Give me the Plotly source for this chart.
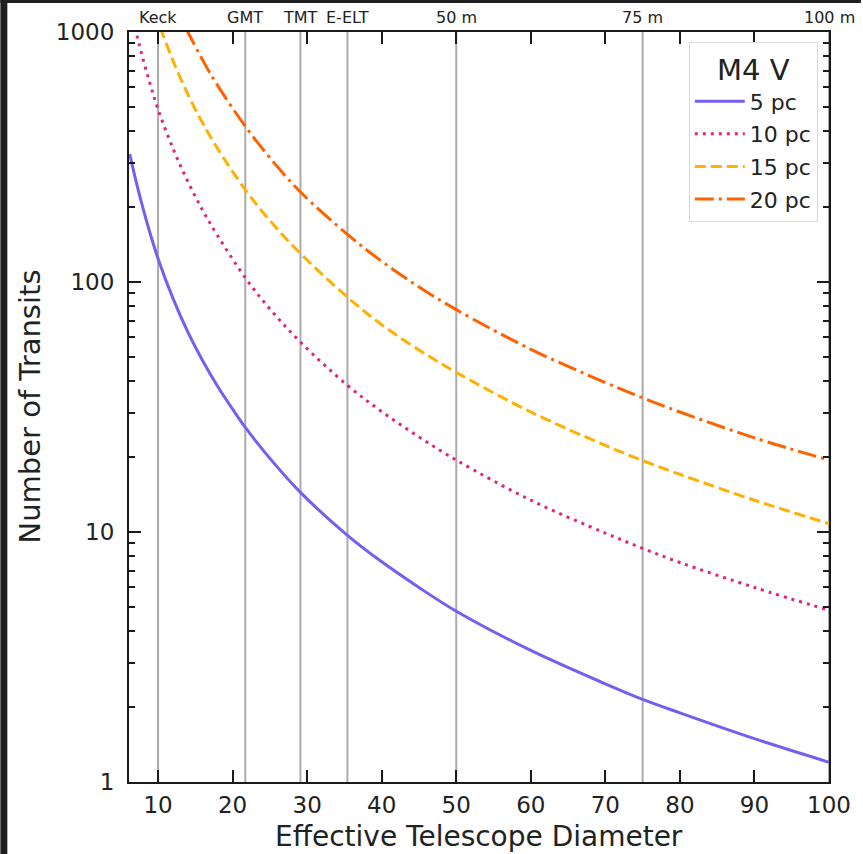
import plotly.graph_objects as go

# ---------------- data ----------------
d_5pc = [6.2, 7, 8, 9, 10, 12, 14, 16, 18, 20, 21.7, 25, 29.1, 35.4, 40, 45, 50, 60, 70, 75, 80, 90, 100]
n_5pc = [325, 256, 196, 154, 124, 86, 63, 48.3, 38.2, 31, 26.2, 19.7, 14.4, 9.7, 7.6, 6.0, 4.82, 3.36, 2.47, 2.14, 1.89, 1.49, 1.2]

d_10pc = [6.9, 8, 9, 10, 12, 14, 16, 18, 21.7, 25, 29.1, 35.4, 40, 45, 50, 60, 70, 75, 80, 90, 100]
n_10pc = [1040, 775, 610, 490, 342, 252, 193, 153, 104, 78, 57.5, 38.6, 30.3, 24, 19.4, 13.4, 9.9, 8.6, 7.55, 6.0, 4.86]

d_15pc = [10.3, 12, 14, 16, 18, 21.7, 25, 29.1, 35.4, 40, 45, 50, 60, 70, 75, 80, 90, 100]
n_15pc = [1040, 768, 563, 431, 341, 234, 176, 130, 87, 67.5, 53.5, 43.5, 30.2, 22.2, 19.3, 17.0, 13.4, 10.8]

d_20pc = [13.7, 16, 18, 21.7, 25, 29.1, 35.4, 40, 45, 50, 60, 70, 75, 80, 90, 100]
n_20pc = [1040, 770, 610, 420, 314, 229, 155, 121, 95.5, 77.5, 53.8, 39.6, 34.4, 30.2, 23.8, 19.4]

series_names = ["5 pc", "10 pc", "15 pc", "20 pc"]
telescope_d = [10, 21.7, 29.1, 35.4, 50, 75, 100]
telescope_labels = ["Keck", "GMT", "TMT", "E-ELT", "50 m", "75 m", "100 m"]

x_ticks = [10, 20, 30, 40, 50, 60, 70, 80, 90, 100]
y_ticks = [1, 10, 100, 1000]
y_ticktext = ["1", "10", "100", "1000"]
y_minor = [m * 10 ** e for e in range(0, 3) for m in range(2, 10)]

# ---------------- styling ----------------
FONT = "DejaVu Sans"
colors = ["#785EF0", "#DC267F", "#FFB000", "#FE6100"]
dashes = ["solid", "3px,5px", "11px,5px", "19px,5px,3px,5px"]

fig = go.Figure()
for i, (xs, ys) in enumerate([(d_5pc, n_5pc), (d_10pc, n_10pc), (d_15pc, n_15pc), (d_20pc, n_20pc)]):
    fig.add_trace(go.Scatter(
        x=xs, y=ys, mode="lines", name=series_names[i],
        legendgroup=f"g{i}",
        line=dict(color=colors[i], width=3, dash=dashes[i], shape="spline", smoothing=1.0),
    ))

# vertical telescope lines
for d in telescope_d:
    fig.add_shape(type="line", xref="x", yref="paper", x0=d, x1=d, y0=0, y1=1,
                  line=dict(color="#ababab", width=2), layer="below")

# telescope labels on top
for d, lab in zip(telescope_d, telescope_labels):
    fig.add_annotation(x=d, y=1.0187, xref="x", yref="paper", text=lab, showarrow=False,
                       xanchor="center", yanchor="middle",
                       font=dict(family=FONT, size=16, color="#222"))

# axis titles
fig.add_annotation(x=0.5, y=-0.0720, xref="paper", yref="paper", text="Effective Telescope Diameter",
                   showarrow=False, xanchor="center", yanchor="middle", borderpad=0,
                   font=dict(family=FONT, size=28, color="#222"))
fig.add_annotation(x=-0.141, y=0.501, xref="paper", yref="paper", text="Number of Transits",
                   showarrow=False, xanchor="center", yanchor="middle", textangle=-90,
                   font=dict(family=FONT, size=29, color="#222"))

# dark frame at the left and top of the screenshot
fig.add_shape(type="rect", xref="paper", yref="paper", x0=-129/702, x1=-122/702, y0=-72/750, y1=822/750,
              line=dict(width=0), fillcolor="#1f1f1f", layer="above")
fig.add_shape(type="rect", xref="paper", yref="paper", x0=-129/702, x1=1 + 32/702, y0=1 + 29/750, y1=1 + 32/750,
              line=dict(width=0), fillcolor="#1f1f1f", layer="above")

axis_common = dict(showgrid=False, zeroline=False, showline=True, linecolor="#1a1a1a", linewidth=2,
                   mirror="ticks", ticks="inside", ticklen=12, tickwidth=2, tickcolor="#1a1a1a",
                   tickfont=dict(family=FONT, size=23, color="#222"))

fig.update_xaxes(range=[6.1, 100], tickmode="array", tickvals=x_ticks, ticklabelstandoff=1, **axis_common)
fig.update_yaxes(type="log", range=[0, 3], tickmode="array", tickvals=y_ticks, ticktext=y_ticktext,
                 ticklabelstandoff=8,
                 minor=dict(tickmode="array", tickvals=y_minor, ticks="inside", ticklen=6,
                            tickwidth=2, tickcolor="#1a1a1a", showgrid=False),
                 **axis_common)

fig.update_layout(
    width=863, height=854,
    margin=dict(l=129, r=32, t=32, b=72),
    paper_bgcolor="white", plot_bgcolor="white",
    font=dict(family=FONT, color="#222"),
    legend=dict(
        x=0.984, y=0.987, xanchor="right", yanchor="top",
        bgcolor="white", bordercolor="#d9d9d9", borderwidth=1,
        font=dict(family=FONT, size=22, color="#222"),
        title=dict(text="M4 V", side="top center", font=dict(family=FONT, size=29, color="#222")),
        tracegroupgap=1, itemwidth=50,
    ),
)

fig.write_html("out.html")
